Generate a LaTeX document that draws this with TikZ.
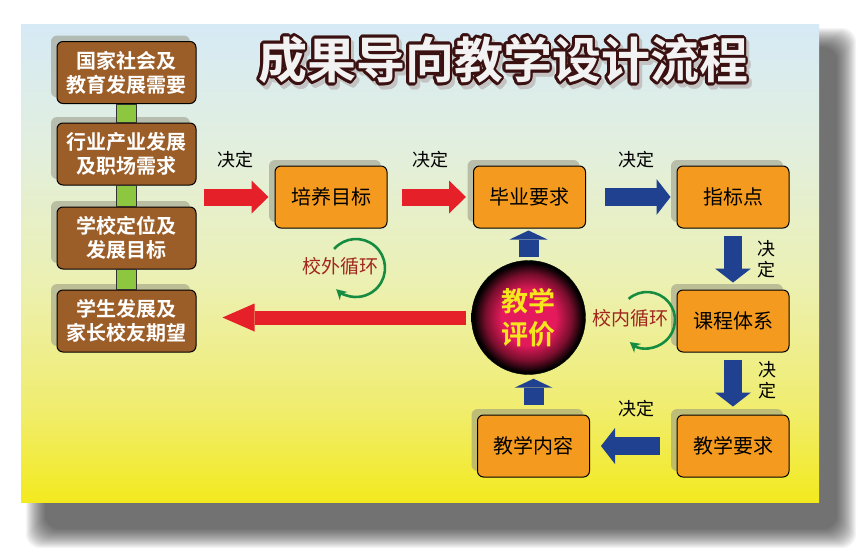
\documentclass[tikz,border=0pt]{standalone}
\usepackage{fontspec}
\newfontfamily\cjk{Noto Sans CJK SC}[BoldFont={Noto Sans CJK SC Bold}]
\usetikzlibrary{arrows.meta,shadows,calc}

\definecolor{paneltop}{RGB}{214,234,246}
\definecolor{panelgrn}{RGB}{226,239,222}
\definecolor{panelmid}{RGB}{236,240,178}
\definecolor{panelyel}{RGB}{240,237,112}
\definecolor{panelbot}{RGB}{243,234,30}
\definecolor{boxorange}{RGB}{244,155,31}
\definecolor{boxbrown}{RGB}{156,94,40}
\definecolor{boxshadow}{RGB}{150,150,130}
\definecolor{bargreen}{RGB}{141,198,63}
\definecolor{arrowred}{RGB}{230,32,40}
\definecolor{arrowblue}{RGB}{32,65,143}
\definecolor{cycgreen}{RGB}{22,140,64}
\definecolor{cycred}{RGB}{160,38,30}
\definecolor{titleline}{RGB}{58,16,16}
\definecolor{titleshade}{RGB}{195,195,195}
\definecolor{evalpink}{RGB}{228,26,92}
\definecolor{evaldark}{RGB}{120,14,45}
\definecolor{evaltext}{RGB}{246,230,30}

\pgfdeclareverticalshading{panelfill}{100bp}{color(0bp)=(panelbot); color(25bp)=(panelbot); color(35bp)=(panelyel); color(48bp)=(panelmid); color(62bp)=(panelgrn); color(75bp)=(paneltop); color(100bp)=(paneltop)}
\pgfdeclareradialshading{evalfill}{\pgfpoint{0bp}{0bp}}{color(0bp)=(evalpink); color(12bp)=(evalpink); color(19bp)=(evaldark); color(24bp)=(black); color(50bp)=(black)}

\tikzset{
  goalbox/.style={draw=black, line width=1pt, fill=boxorange, rounded corners=6pt,
    minimum width=112pt, minimum height=62pt, font=\cjk\fontsize{20}{24}\selectfont,
    drop shadow={shadow xshift=-6pt, shadow yshift=6pt, fill=boxshadow, opacity=.55}},
  needbox/.style={goalbox, fill=boxbrown, text=white, minimum width=139pt, align=center,
    font=\cjk\bfseries\fontsize{20}{24}\selectfont},
  evalball/.style={circle, minimum size=114pt, shading=evalfill, draw=black, text=evaltext,
    align=center, font=\cjk\bfseries\fontsize{27}{33}\selectfont},
  linkbar/.style={fill=bargreen, draw=black!80, line width=.8pt},
  redfat/.style={draw=arrowred, line width=17pt, -{Triangle[length=17pt, width=33pt, line width=0pt]}},
  bluefat/.style={draw=arrowblue, line width=18pt, -{Triangle[length=14pt, width=36pt, line width=0pt]}},
  upfat/.style={draw=arrowblue, line width=20pt, -{Triangle[length=9pt, width=38pt, line width=0pt]}},
  bigred/.style={draw=arrowred, line width=14pt, -{Triangle[length=32pt, width=28pt, line width=0pt]}},
  decide/.style={text=black, font=\cjk\fontsize{18}{21}\selectfont, align=center},
  cyclabel/.style={text=cycred, font=\cjk\fontsize{19}{22}\selectfont},
  cycarrow/.style={draw=cycgreen, line width=2.6pt, -{Stealth[length=10pt, width=11pt]}},
  titletext/.style={inner sep=0pt, font=\cjk\bfseries\fontsize{49}{52}\selectfont}
}

\begin{document}
\begin{tikzpicture}[x=1pt, y=-1pt]
    \useasboundingbox (0,0) rectangle (868,558);

    % Panel and its shadow
    \foreach \i in {0,...,19} {
        \fill[black, opacity=.04, rounded corners=14pt] (26+\i,28+\i) rectangle (856-\i,548-\i);
    }
    \shade[shading=panelfill] (21,24) rectangle (819,502);

    % Title
    \foreach \a in {0,20,...,340} {
        \node[titletext, text=titleshade] at ($(506,64)+(\a:2.6pt)$) {成果导向教学设计流程};
    }
    \foreach \a in {0,20,...,340} {
        \node[titletext, text=titleline] at ($(503,60)+(\a:2.6pt)$) {成果导向教学设计流程};
    }
    \node[titletext, text=white!95!black] (title) at (503,60) {成果导向教学设计流程};

    % Needs column
    \node[needbox] (need1) at (126.5,72.5) {国家社会及\\教育发展需要};
    \node[needbox] (need2) at (126.5,154) {行业产业发展\\及职场需求};
    \node[needbox] (need3) at (126.5,238) {学校定位及\\发展目标};
    \node[needbox] (need4) at (126.5,321) {学生发展及\\家长校友期望};
    \foreach \u/\v in {need1/need2, need2/need3, need3/need4} {
        \draw[linkbar] ($(\u.south)+(-10,0)$) rectangle ($(\v.north)+(10,0)$);
    }

    % Design chain
    \node[goalbox] (goal) at (331,197) {培养目标};
    \node[goalbox] (grad) at (529.5,197) {毕业要求};
    \node[goalbox] (index) at (733,197) {指标点};
    \node[goalbox] (course) at (733,321) {课程体系};
    \node[goalbox] (teachreq) at (733,446) {教学要求};
    \node[goalbox] (content) at (533.5,446) {教学内容};
    \node[evalball] (eval) at (528.5,317.5) {教学\\评价};

    % Loops
    \coordinate (outpivot) at (356,268);
    \draw[cycarrow] ([shift={(139:29pt)}]outpivot) arc[start angle=139, end angle=-133, radius=29pt];
    \node[cyclabel] (outloop) at (340,266) {校外循环};
    \coordinate (inpivot) at (647,320);
    \draw[cycarrow] ([shift={(131:28pt)}]inpivot) arc[start angle=131, end angle=-128, radius=28pt];
    \node[cyclabel] (inloop) at (630,318) {校内循环};

    % Arrows
    \draw[redfat, shorten <=7pt, shorten >=6pt] (goal.west -| need2.east) -- (goal.west)
        node[decide, midway, yshift=37pt] (dec1) {决定};
    \draw[redfat, shorten <=14pt, shorten >=7pt] (goal.east) -- (grad.west)
        node[decide, midway, yshift=37pt] (dec2) {决定};
    \draw[bluefat, shorten <=19pt, shorten >=6pt] (grad.east) -- (index.west)
        node[decide, midway, xshift=5pt, yshift=37pt] (dec3) {决定};
    \draw[bluefat, shorten <=7pt, shorten >=7pt] (index.south) -- (course.north)
        node[decide, midway, xshift=33pt] (dec4) {决\\定};
    \draw[bluefat, shorten <=7pt, shorten >=8pt] (course.south) -- (teachreq.north)
        node[decide, midway, xshift=34pt, yshift=3pt] (dec5) {决\\定};
    \draw[bluefat, shorten <=17pt, shorten >=11pt] (teachreq.west) -- (content.east)
        node[decide, midway, xshift=3pt, yshift=37pt] (dec6) {决定};
    \draw[upfat, shorten <=10pt, shorten >=4pt] (content.north) -- (content.north |- eval.south);
    \draw[upfat, shorten <=3pt, shorten >=2pt] (eval.north) -- (eval.north |- grad.south);
    \draw[bigred, shorten <=5pt, shorten >=26pt] (eval.west) -- (eval.west -| need4.east);
\end{tikzpicture}
\end{document}
